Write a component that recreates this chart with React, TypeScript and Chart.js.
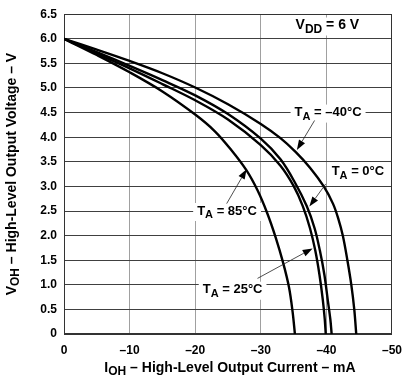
import React, { useEffect, useRef } from 'react';
import { Chart, registerables } from 'chart.js';

Chart.register(...registerables);

// Output current magnitude (mA) and output voltage (V) for each ambient temperature
const currentM40 = [0, 5, 10, 15, 20, 25, 30, 33, 35.3, 37.5, 39.6, 41, 41.8, 42.5, 43.2, 43.8, 44.25, 44.55];
const voltageM40 = [6.0, 5.78, 5.55, 5.3, 5.01, 4.67, 4.27, 3.98, 3.7, 3.38, 3.0, 2.65, 2.35, 2.0, 1.5, 1.0, 0.5, 0];

const current0 = [0, 5, 10, 15, 20, 25, 30, 33, 35.2, 37.0, 38.2, 39.0, 39.7, 40.2, 40.6, 40.8];
const voltage0 = [6.0, 5.73, 5.45, 5.16, 4.85, 4.47, 3.97, 3.55, 3.08, 2.6, 2.15, 1.7, 1.2, 0.7, 0.3, 0];

const current25 = [0, 5, 10, 15, 20, 25, 30, 33, 35, 36.4, 37.5, 38.3, 38.95, 39.45, 39.75, 39.9];
const voltage25 = [6.0, 5.7, 5.4, 5.08, 4.75, 4.36, 3.84, 3.42, 3.01, 2.6, 2.15, 1.7, 1.2, 0.7, 0.3, 0];

const current85 = [0, 5, 10, 15, 20, 23, 25.5, 27.8, 29.5, 31, 32.3, 33.4, 34.3, 34.85, 35.2];
const voltage85 = [6.0, 5.67, 5.32, 4.93, 4.46, 4.12, 3.74, 3.33, 2.92, 2.45, 1.95, 1.45, 0.95, 0.45, 0];

const seriesLabels = ['T_A = –40°C', 'T_A = 0°C', 'T_A = 25°C', 'T_A = 85°C'];

const xMin = -50;
const xMax = 0;
const xStep = 10;
const yMin = 0;
const yMax = 6.5;
const yStep = 0.5;

const FONT = '"Liberation Sans", Arial, Helvetica, sans-serif';

type Part = [string, boolean];

function toPoints(cur: number[], volt: number[]) {
  return cur.map((c, i) => ({ x: -c, y: volt[i] }));
}

function measureParts(ctx: CanvasRenderingContext2D, parts: Part[], size: number, subSize: number) {
  let w = 0;
  for (const [t, sub] of parts) {
    ctx.font = `bold ${sub ? subSize : size}px ${FONT}`;
    w += ctx.measureText(t).width;
  }
  return w;
}

function drawParts(ctx: CanvasRenderingContext2D, parts: Part[], x: number, y: number, size: number, subSize: number, subShift: number) {
  let cx = x;
  ctx.textBaseline = 'middle';
  ctx.textAlign = 'left';
  ctx.fillStyle = '#000';
  for (const [t, sub] of parts) {
    ctx.font = `bold ${sub ? subSize : size}px ${FONT}`;
    ctx.fillText(t, cx, sub ? y + subShift : y);
    cx += ctx.measureText(t).width;
  }
}

function labelParts(s: string): Part[] {
  const m = s.match(/^([A-Z])_([A-Z]+)(.*)$/);
  if (!m) return [[s, false]];
  return [[m[1], false], [m[2], true], [m[3], false]];
}

// annotation placement (data coordinates: x = current in mA (negative), y = voltage)
const notes = [
  { text: seriesLabels[0], x: -35.15, y: 4.5, size: 13, sub: 11, from: [-38.2, 4.34], to: [-35.5, 3.74] },
  { text: seriesLabels[1], x: -40.8, y: 3.3, size: 13, sub: 11, from: [-39.9, 3.05], to: [-37.4, 2.59] },
  { text: seriesLabels[2], x: -21.15, y: 0.9, size: 13, sub: 11, from: [-29.5, 1.13], to: [-37.9, 1.74] },
  { text: seriesLabels[3], x: -20.3, y: 2.5, size: 13, sub: 11, from: [-24.8, 2.65], to: [-27.84, 3.35] },
  { text: 'V_DD = 6 V', x: -35.3, y: 6.27, size: 14, sub: 12, from: null, to: null },
];

const annotationPlugin = {
  id: 'annotations',
  beforeDatasetsDraw(chart: any) {
    const { ctx, chartArea } = chart;
    ctx.save();
    ctx.strokeStyle = '#333';
    ctx.lineWidth = 1;
    ctx.strokeRect(Math.round(chartArea.left) + 0.5, Math.round(chartArea.top) + 0.5,
      Math.round(chartArea.right - chartArea.left) - 1, Math.round(chartArea.bottom - chartArea.top) - 1);
    ctx.restore();
  },
  afterDatasetsDraw(chart: any) {
    const { ctx, scales, chartArea } = chart;
    const xs = scales.x;
    const ys = scales.y;
    ctx.save();
    for (const n of notes) {
      const parts = labelParts(n.text);
      const px = xs.getPixelForValue(n.x);
      const py = ys.getPixelForValue(n.y);
      const w = measureParts(ctx, parts, n.size, n.sub);
      ctx.fillStyle = '#fff';
      ctx.fillRect(px - 4, py - 8, w + 8, 18);
      drawParts(ctx, parts, px, py, n.size, n.sub, 4);
      if (n.from && n.to) {
        const fx = xs.getPixelForValue(n.from[0]);
        const fy = ys.getPixelForValue(n.from[1]);
        const tx = xs.getPixelForValue(n.to[0]);
        const ty = ys.getPixelForValue(n.to[1]);
        const ang = Math.atan2(ty - fy, tx - fx);
        const len = 10;
        const hw = 3.5;
        const bx = tx - len * Math.cos(ang);
        const by = ty - len * Math.sin(ang);
        ctx.strokeStyle = '#222';
        ctx.lineWidth = 0.8;
        ctx.beginPath();
        ctx.moveTo(fx, fy);
        ctx.lineTo(bx, by);
        ctx.stroke();
        ctx.fillStyle = '#000';
        ctx.beginPath();
        ctx.moveTo(tx, ty);
        ctx.lineTo(bx + hw * Math.sin(ang), by - hw * Math.cos(ang));
        ctx.lineTo(bx - hw * Math.sin(ang), by + hw * Math.cos(ang));
        ctx.closePath();
        ctx.fill();
      }
    }
    // axis titles
    const xt: Part[] = [['I', false], ['OH', true], [' – High-Level Output Current – mA', false]];
    const xw = measureParts(ctx, xt, 14, 12);
    const xc = (chartArea.left + chartArea.right) / 2 + 2;
    drawParts(ctx, xt, xc - xw / 2, 368, 14, 12, 4);

    const yt: Part[] = [['V', false], ['OH', true], [' – High-Level Output Voltage – V', false]];
    const yw = measureParts(ctx, yt, 14, 12);
    const yc = (chartArea.top + chartArea.bottom) / 2;
    ctx.translate(12, yc);
    ctx.rotate(-Math.PI / 2);
    drawParts(ctx, yt, -yw / 2, 0, 14, 12, 4);
    ctx.restore();
  },
};

export default function App() {
  const canvasRef = useRef<HTMLCanvasElement | null>(null);

  useEffect(() => {
    if (!canvasRef.current) return;
    const tickFont = { family: FONT, size: 12, weight: 'bold' as const };
    const mk = (cur: number[], volt: number[], label: string) => ({
      label,
      data: toPoints(cur, volt),
      borderColor: '#000',
      borderWidth: 2.4,
      pointRadius: 0,
      fill: false,
      tension: 0.35,
    });
    const chart = new Chart(canvasRef.current, {
      type: 'line',
      data: {
        datasets: [
          mk(currentM40, voltageM40, seriesLabels[0]),
          mk(current0, voltage0, seriesLabels[1]),
          mk(current25, voltage25, seriesLabels[2]),
          mk(current85, voltage85, seriesLabels[3]),
        ],
      },
      options: {
        animation: false,
        responsive: false,
        maintainAspectRatio: false,
        layout: { padding: { top: 6, right: 16, left: 0, bottom: 0 } },
        plugins: { legend: { display: false }, tooltip: { enabled: false } },
        scales: {
          x: {
            type: 'linear',
            min: xMin,
            max: xMax,
            reverse: true,
            ticks: {
              stepSize: xStep,
              autoSkip: false,
              maxRotation: 0,
              color: '#000',
              font: tickFont,
              padding: 9,
              callback: (v: any) => (Number(v) === 0 ? '0' : '–' + Math.abs(Number(v))),
            },
            grid: { color: '#a0a0a0', lineWidth: 1, drawTicks: false },
            border: { display: true, color: '#333' },
            afterFit: (s: any) => { s.height = 44; },
          },
          y: {
            type: 'linear',
            min: yMin,
            max: yMax,
            ticks: {
              stepSize: yStep,
              autoSkip: false,
              color: '#000',
              font: tickFont,
              padding: 7,
              callback: (v: any) => (Number(v) === 0 ? '0' : Number(v).toFixed(1)),
            },
            grid: { color: '#404040', lineWidth: 1, drawTicks: false },
            border: { display: true, color: '#333' },
            afterFit: (s: any) => { s.width = 64; },
          },
        },
      },
      plugins: [annotationPlugin],
    });
    return () => chart.destroy();
  }, []);

  return (
    <div style={{ position: 'fixed', left: 0, top: 0, width: 411, height: 378, background: '#fff' }}>
      <canvas ref={canvasRef} width={411} height={378} style={{ width: 411, height: 378, display: 'block' }} />
    </div>
  );
}
